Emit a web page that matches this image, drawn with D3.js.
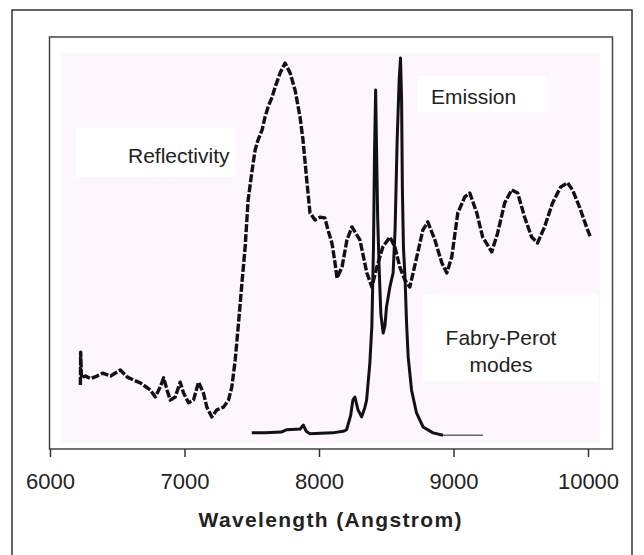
<!DOCTYPE html>
<html>
<head>
<meta charset="utf-8">
<script src="https://cdn.jsdelivr.net/npm/d3@7"></script>
<style>
body{margin:0;background:#fff;}
svg{display:block;}
text{font-family:"Liberation Sans",Arial,sans-serif;fill:#222;}
</style>
</head>
<body>
<div id="chart"></div>
<script>
// reflectivity (dashed), arbitrary units 0-100
var reflWl=[6226,6228,6234,6263,6301,6340,6391,6450,6523,6575,6630,6672,6746,6783,6820,6845,6870,6894,6931,6968,
	6993,7030,7067,7104,7141,7166,7203,7241,7290,7327,7352,7377,7399,7429,7451,7473,7503,7525,7547,7577,
	7599,7622,7651,7674,7711,7748,7785,7822,7859,7881,7911,7933,7970,8007,8044,8067,8096,8119,8134,8171,
	8208,8245,8304,8356,8393,8430,8475,8527,8564,8601,8638,8675,8727,8772,8809,8861,8913,8950,8987,9032,
	9084,9121,9173,9217,9284,9328,9380,9432,9477,9529,9581,9625,9677,9736,9796,9848,9885,9937,9989,10018];
var reflVal=[14.9,23.3,16.7,17.2,16.5,17.0,17.9,17.2,18.7,16.9,16.0,15.4,13.6,11.8,14.4,16.7,13.6,11.0,11.8,15.6,
	12.8,10.3,11.0,15.6,12.8,9.2,6.7,8.5,9.2,11.0,14.4,21.3,29.7,41.8,50.3,62.3,70.0,75.1,77.7,80.3,
	83.6,86.2,88.7,91.3,94.9,97.4,94.9,90.5,83.6,77.7,66.7,59.0,57.2,57.9,57.7,54.6,51.3,46.2,42.3,45.1,
	52.1,55.4,52.1,43.6,40.0,45.1,50.3,52.8,50.3,45.1,41.8,40.0,47.7,54.6,56.7,52.1,46.2,43.6,47.7,59.0,
	63.1,64.1,59.0,52.8,49.0,53.8,61.5,64.9,64.1,57.9,52.8,51.3,55.4,61.5,65.6,66.7,64.9,60.5,55.4,52.8];

// emission (solid)
var emisWl=[7500,7600,7720,7760,7860,7884,7905,7930,8100,8180,8205,8235,8252,8267,8290,8317,8340,8354,8378,8393,
	8405,8413,8421,8428,8436,8447,8460,8477,8490,8502,8527,8551,8566,8581,8596,8606,8614,8620,8628,8640,
	8651,8663,8688,8725,8774,8848,8922];
var emisVal=[2.6,2.6,2.8,3.4,3.6,4.6,3.0,2.4,2.6,3.0,3.4,7.0,11.0,11.8,8.5,6.7,9.0,11.0,20.5,30.0,
	50.0,75.0,90.5,75.0,58.0,45.0,33.0,28.2,30.0,34.9,40.0,43.6,55.0,77.7,93.0,98.7,88.0,65.0,50.0,42.0,
	30.8,22.1,13.6,7.7,4.1,2.6,2.0];
// thin tail of the emission curve
var tailWl=[8922,9219];
var tailVal=[2.0,2.0];

var xTicks=[6000,7000,8000,9000,10000];
var xTitle="Wavelength  (Angstrom)";
var notes=[
	{lines:["Reflectivity"],box:[76,128,159,49],tx:128,ty:[163],anchor:"start"},
	{lines:["Emission"],box:[418,76,129,36],tx:431,ty:[104],anchor:"start"},
	{lines:["Fabry-Perot","modes"],box:[423,294,175,87],tx:501,ty:[345,372],anchor:"middle"}
];

var W=644,H=555;
var svg=d3.select("#chart").append("svg").attr("width",W).attr("height",H);

// outer frame (bottom edge falls outside the picture)
svg.append("path").attr("d","M12,"+(H+5)+"V10H632V"+(H+5))
	.attr("fill","none").attr("stroke","#333").attr("stroke-width",1.5);

var x=d3.scaleLinear().domain([6000,10000]).range([50,588]);
var y=d3.scaleLinear().domain([0,100]).range([443,53]);

// plot area
svg.append("rect").attr("x",61).attr("y",53).attr("width",539).attr("height",390).attr("fill","#fdf6fc");
svg.append("rect").attr("x",49.5).attr("y",37).attr("width",563).attr("height",412)
	.attr("fill","none").attr("stroke","#444").attr("stroke-width",1.5);

// label boxes
notes.forEach(function(n){
	svg.append("rect").attr("x",n.box[0]).attr("y",n.box[1]).attr("width",n.box[2]).attr("height",n.box[3]).attr("fill","#fff");
});

var line=d3.line().x(function(d){return x(d[0]);}).y(function(d){return y(d[1]);});

svg.append("path").datum(d3.zip(reflWl,reflVal)).attr("d",line)
	.attr("fill","none").attr("stroke","#111").attr("stroke-width",3.4)
	.attr("stroke-dasharray","8,2").attr("stroke-linejoin","round");
svg.append("path").datum(d3.zip(emisWl,emisVal)).attr("d",line)
	.attr("fill","none").attr("stroke","#111").attr("stroke-width",3).attr("stroke-linejoin","round");
svg.append("path").datum(d3.zip(tailWl,tailVal)).attr("d",line)
	.attr("fill","none").attr("stroke","#666").attr("stroke-width",1.5);

// x axis
var xAxis=d3.axisBottom(x).tickValues(xTicks).tickSize(8).tickPadding(16).tickFormat(d3.format("d"));
var gx=svg.append("g").attr("transform","translate(0,449)").call(xAxis);
gx.select(".domain").remove();
gx.selectAll(".tick line").attr("stroke","#333").attr("stroke-width",1.5);
gx.selectAll(".tick text").attr("font-size",22).attr("font-family",null).style("fill","#222");

svg.append("text").attr("x",330).attr("y",527).attr("text-anchor","middle")
	.attr("font-size",21).attr("font-weight","bold")
	.attr("textLength",263).attr("lengthAdjust","spacing").text(xTitle);

// annotations
notes.forEach(function(n){
	n.lines.forEach(function(l,i){
		svg.append("text").attr("x",n.tx).attr("y",n.ty[i]).attr("text-anchor",n.anchor)
			.attr("font-size",21).text(l);
	});
});
</script>
</body>
</html>
